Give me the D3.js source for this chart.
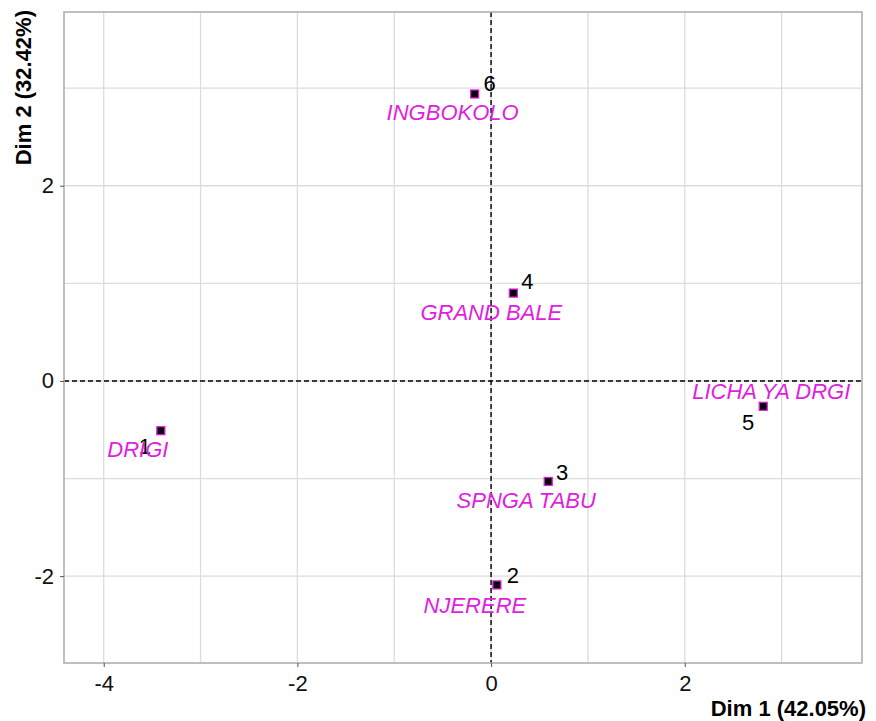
<!DOCTYPE html>
<html><head><meta charset="utf-8">
<script src="https://cdn.jsdelivr.net/npm/d3@7"></script>
<style>body{margin:0;background:#fff}svg{display:block}text{font-family:"Liberation Sans",Arial,sans-serif}</style>
</head><body><svg id="c" width="876" height="721"></svg>
<script>
const ids = ["1","2","3","4","5","6"];
const names = ["DRIGI","NJERERE","SPNGA TABU","GRAND BALE","LICHA YA DRGI","INGBOKOLO"];
const dim1 = [-3.41, 0.06, 0.59, 0.23, 2.81, -0.17];
const dim2 = [-0.51, -2.09, -1.03, 0.90, -0.26, 2.94];
const xTicks = [-4, -2, 0, 2];
const yTicks = [-2, 0, 2];
// label offsets (px) for repelled labels
const numOff = [[-16, 16], [16, -9], [14, -9], [14, -12], [-15, 16], [15, -10]];
const nameOff = [[-23, 19], [-22, 21], [-22, 19], [-22, 19], [8, -15], [-22, 19]];

const svg = d3.select("#c");
const L = 64, R = 862, T = 12, B = 663;
const x = d3.scaleLinear().domain([-4.41, 3.83]).range([L, R]);
const y = d3.scaleLinear().domain([-2.89, 3.78]).range([B, T]);

const g = svg.append("g");
// grid
const gx = d3.range(-4, 4, 1), gy = d3.range(-2, 4, 1);
g.selectAll(".gx").data(gx).join("line").attr("x1", d => x(d)).attr("x2", d => x(d)).attr("y1", T).attr("y2", B)
  .attr("stroke", "#dcdcdc").attr("stroke-width", 1.3);
g.selectAll(".gy").data(gy).join("line").attr("y1", d => y(d)).attr("y2", d => y(d)).attr("x1", L).attr("x2", R)
  .attr("stroke", "#dcdcdc").attr("stroke-width", 1.3);
// dashed axes
g.append("line").attr("x1", x(0)).attr("x2", x(0)).attr("y1", T).attr("y2", B).attr("stroke", "#000").attr("stroke-width", 1.4).attr("stroke-dasharray", "5,3");
g.append("line").attr("y1", y(0)).attr("y2", y(0)).attr("x1", L).attr("x2", R).attr("stroke", "#000").attr("stroke-width", 1.4).attr("stroke-dasharray", "5,3");
// border
g.append("rect").attr("x", L).attr("y", T).attr("width", R - L).attr("height", B - T).attr("fill", "none").attr("stroke", "#b0b0b0").attr("stroke-width", 1.6);

// axes
const ax = svg.append("g").attr("transform", `translate(0,${B})`).call(d3.axisBottom(x).tickValues(xTicks).tickSize(4).tickPadding(8).tickFormat(d3.format("d")));
const ay = svg.append("g").attr("transform", `translate(${L},0)`).call(d3.axisLeft(y).tickValues(yTicks).tickSize(4).tickPadding(6).tickFormat(d3.format("d")));
[ax, ay].forEach(a => {
  a.select(".domain").remove();
  a.selectAll(".tick line").attr("stroke", "#555");
  a.selectAll(".tick text").attr("font-size", 22).attr("fill", "#111").attr("font-family", "Liberation Sans, Arial, sans-serif");
});
ax.selectAll(".tick text").text(d => d < 0 ? "-" + Math.abs(d) : d);
ay.selectAll(".tick text").text(d => d < 0 ? "-" + Math.abs(d) : d);

// axis titles
svg.append("text").attr("x", 866).attr("y", 716).attr("text-anchor", "end").attr("font-size", 22).attr("font-weight", "bold").text("Dim 1 (42.05%)");
svg.append("text").attr("transform", "translate(31,10) rotate(-90)").attr("text-anchor", "end").attr("font-size", 22).attr("font-weight", "bold").text("Dim 2 (32.42%)");

const data = ids.map((id, i) => ({id, name: names[i], d1: dim1[i], d2: dim2[i], no: numOff[i], na: nameOff[i]}));
// points
svg.selectAll(".pt").data(data).join("rect").attr("x", d => x(d.d1) - 4).attr("y", d => y(d.d2) - 4)
  .attr("width", 8).attr("height", 8).attr("fill", "#000").attr("stroke", "#e01ee0").attr("stroke-width", 1.3);
// number labels
svg.selectAll(".num").data(data).join("text").attr("x", d => x(d.d1) + d.no[0]).attr("y", d => y(d.d2) + d.no[1])
  .attr("text-anchor", "middle").attr("dominant-baseline", "central").attr("font-size", 22).attr("fill", "#000").text(d => d.id);
// name labels
svg.selectAll(".nm").data(data).join("text").attr("x", d => x(d.d1) + d.na[0]).attr("y", d => y(d.d2) + d.na[1])
  .attr("text-anchor", "middle").attr("dominant-baseline", "central").attr("font-size", 22).attr("font-style", "italic").attr("fill", "#e01ee0").text(d => d.name);
</script></body></html>
